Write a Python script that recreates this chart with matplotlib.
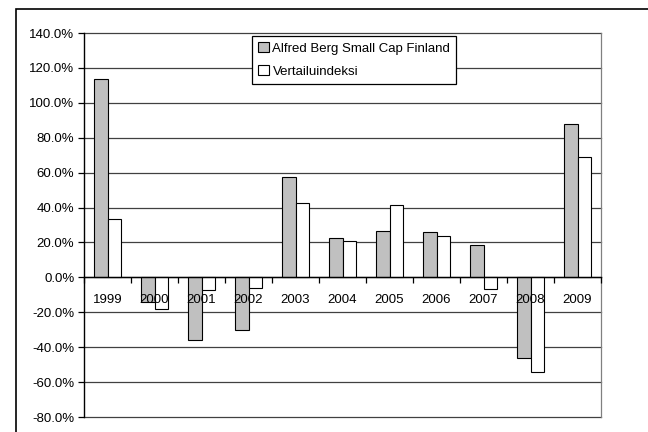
import numpy as np
import matplotlib.pyplot as plt
import matplotlib.patches as mpatches
from matplotlib.ticker import FuncFormatter, FixedLocator

#************ data (percent) ************
years = ["1999", "2000", "2001", "2002", "2003", "2004", "2005", "2006", "2007", "2008", "2009"]
fund = [113.5, -13.9, -35.9, -30.1, 57.3, 22.8, 26.6, 26.0, 18.7, -46.2, 87.7]
index = [33.3, -17.9, -7.4, -6.3, 42.8, 21.0, 41.7, 23.5, -6.8, -54.4, 69.1]
series_names = ["Alfred Berg Small Cap Finland", "Vertailuindeksi"]
yticks = list(range(-80, 141, 20))

plt.rcParams['font.family'] = ['Liberation Sans', 'DejaVu Sans']
fs = 9.5

fig = plt.figure(figsize=(6.48, 4.32), dpi=100)
ax = fig.add_axes([84/648, 15/432, 517/648, 384/432])

x = np.arange(len(years))
w = 0.29
ax.bar(x - w/2, fund, w, color="#c0c0c0", edgecolor="black", linewidth=0.8, zorder=1, label=series_names[0])
ax.bar(x + w/2, index, w, color="white", edgecolor="black", linewidth=0.8, zorder=1, label=series_names[1])

# gridlines behind the bars
for t in yticks:
	ax.axhline(t, color="#404040", linewidth=0.9, zorder=0.5, clip_on=False)

ax.set_xlim(-0.5, len(years) - 0.5)
ax.set_ylim(-80, 140)
ax.set_yticks(yticks)
ax.yaxis.set_major_formatter(FuncFormatter(lambda v, p: f"{v:.1f}%"))
ax.tick_params(axis='y', direction='out', length=4, width=0.9, pad=3, labelsize=fs, colors='black')

ax.set_axisbelow(False)
ax.spines['bottom'].set_position(('data', 0))
ax.spines['bottom'].set_linewidth(1.0)
ax.spines['bottom'].set_zorder(3)
ax.spines['top'].set_visible(False)
ax.spines['left'].set_linewidth(1.0)
ax.spines['right'].set_color("#808080")
ax.spines['right'].set_linewidth(0.9)

ax.set_xticks(x)
ax.set_xticklabels(years)
ax.xaxis.set_minor_locator(FixedLocator(np.arange(-0.5, len(years), 1.0)))
ax.tick_params(axis='x', which='major', length=0, pad=12, labelsize=fs)
ax.tick_params(axis='x', which='minor', direction='out', length=4, width=0.9)
for lab in ax.get_xticklabels():
	lab.set_zorder(4)

handles = [mpatches.Patch(facecolor="#c0c0c0", edgecolor="black", linewidth=0.8),
	mpatches.Patch(facecolor="white", edgecolor="black", linewidth=0.8)]
leg = ax.legend(handles, series_names, loc='upper left', bbox_to_anchor=(0.325, 0.992),
	fontsize=fs, fancybox=False, edgecolor="black", framealpha=1, borderpad=0.45,
	handlelength=0.8, handleheight=0.8, handletextpad=0.3, labelspacing=0.8, borderaxespad=0)
leg.get_frame().set_linewidth(0.9)
leg.set_zorder(5)

# outer chart-area border
fig.patches.append(mpatches.Rectangle((16/648, -0.1), 1.2, 1.1 - 9/432 , transform=fig.transFigure,
	fill=False, edgecolor="black", linewidth=1.2))

fig.savefig("out.png", dpi=100)
